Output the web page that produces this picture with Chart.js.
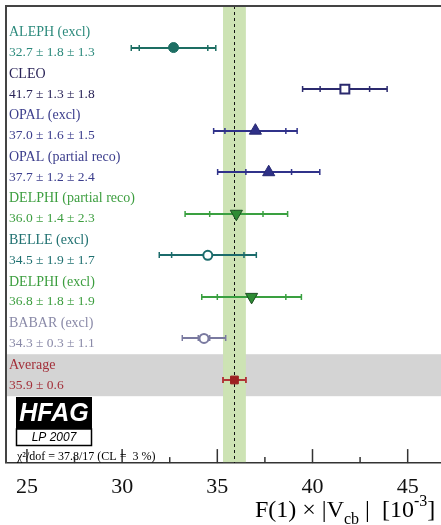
<!DOCTYPE html>
<html>
<head>
<meta charset="utf-8">
<script src="https://cdn.jsdelivr.net/npm/chart.js@4"></script>
<style>
  body { margin: 0; background: #fff; }
  canvas { display: block; }
</style>
</head>
<body>
<canvas id="myChart" width="441" height="525"></canvas>
<script>
// measurements of F(1)|Vcb| [10^-3], top to bottom
var experiments = ['ALEPH (excl)', 'CLEO', 'OPAL (excl)', 'OPAL (partial reco)', 'DELPHI (partial reco)',
                   'BELLE (excl)', 'DELPHI (excl)', 'BABAR (excl)', 'Average'];
var values  = [32.7, 41.7, 37.0, 37.7, 36.0, 34.5, 36.8, 34.3, 35.9];
var statErr = [1.8, 1.3, 1.6, 1.2, 1.4, 1.9, 1.8, 0.3, 0.6];
var systErr = [1.3, 1.8, 1.5, 2.4, 2.3, 1.7, 1.9, 1.1, null];
var xTicks  = [25, 30, 35, 40, 45];
var chi2Label = 'χ²/dof = 37.8/17 (CL =  3 %)';

// styles per row
var textColors = ['#2c8a7c', '#2a2458', '#3b3d8c', '#3b3d8c', '#3c9e3f', '#1f7070', '#3c9e3f', '#8a8aa8', '#a3303a'];
var lineColors = ['#1d6e63', '#2b2a6e', '#30328a', '#30328a', '#3aa040', '#1b6b6b', '#3aa040', '#7a7aa0', '#b03535'];
var fillColors = ['#1d6e63', '#ffffff', '#2e3087', '#2e3087', '#2e8c34', '#ffffff', '#2e8c34', '#ffffff', '#9e2222'];
var edgeColors = ['#1d6e63', '#2b2a6e', '#262870', '#262870', '#1c4f22', '#1b6b6b', '#1c4f22', '#7a7aa0', '#9e2222'];
var shapes     = ['circle', 'rect', 'triangle', 'triangle', 'triangle', 'circle', 'triangle', 'circle', 'rect'];
var rotations  = [0, 0, 0, 0, 180, 0, 180, 0, 0];
var radii      = [5, 6.3, 7, 7, 7, 4.5, 7, 4.5, 5.5];
var borders    = [1, 2, 1, 1, 1, 2, 1, 2, 1];

var serif = '"Liberation Serif", "Times New Roman", serif';
var sans = '"Liberation Sans", Arial, sans-serif';

function totalErr(i) {
  if (systErr[i] == null) return statErr[i];
  return Math.sqrt(statErr[i] * statErr[i] + systErr[i] * systErr[i]);
}

function valueLabel(i) {
  var s = values[i].toFixed(1) + ' ± ' + statErr[i].toFixed(1);
  if (systErr[i] != null) s += ' ± ' + systErr[i].toFixed(1);
  return s;
}

var hfagPlugin = {
  id: 'hfag',
  beforeDatasetsDraw: function (chart) {
    var ctx = chart.ctx, area = chart.chartArea;
    var x = chart.scales.x, y = chart.scales.y;
    var last = values.length - 1;
    var avg = values[last], avgErr = statErr[last];
    ctx.save();

    // grey band behind the average row
    var top = y.getPixelForValue(last - 0.62), bot = y.getPixelForValue(last + 0.39);
    ctx.fillStyle = '#d4d4d4';
    ctx.fillRect(area.left, top, area.right - area.left, bot - top);

    // green band of the average
    var x1 = x.getPixelForValue(avg - avgErr), x2 = x.getPixelForValue(avg + avgErr);
    ctx.fillStyle = '#cde3b4';
    ctx.fillRect(x1, area.top, x2 - x1, area.bottom - area.top - 1);

    // dashed central line
    var xa = Math.round(x.getPixelForValue(avg)) + 0.5;
    ctx.strokeStyle = '#111';
    ctx.lineWidth = 1;
    ctx.setLineDash([3, 3]);
    ctx.beginPath();
    ctx.moveTo(xa, area.top);
    ctx.lineTo(xa, area.bottom);
    ctx.stroke();
    ctx.setLineDash([]);

    // error bars, inner tick = stat, outer = total
    values.forEach(function (v, i) {
      var py = Math.round(y.getPixelForValue(i));
      var tot = totalErr(i);
      ctx.strokeStyle = lineColors[i];
      ctx.lineWidth = 2;
      ctx.beginPath();
      ctx.moveTo(x.getPixelForValue(v - tot), py);
      ctx.lineTo(x.getPixelForValue(v + tot), py);
      ctx.stroke();
      ctx.lineWidth = 1.5;
      [v - statErr[i], v + statErr[i], v - tot, v + tot].forEach(function (e) {
        var px = x.getPixelForValue(e);
        ctx.beginPath();
        ctx.moveTo(px, py - 3);
        ctx.lineTo(px, py + 3);
        ctx.stroke();
      });
    });
    ctx.restore();
  },
  afterDraw: function (chart) {
    var ctx = chart.ctx, area = chart.chartArea;
    var x = chart.scales.x, y = chart.scales.y;
    ctx.save();

    // frame: top and left
    ctx.strokeStyle = '#444';
    ctx.lineWidth = 2;
    ctx.beginPath();
    ctx.moveTo(area.left, area.bottom);
    ctx.lineTo(area.left, area.top);
    ctx.lineTo(chart.width, area.top);
    ctx.stroke();

    // tick marks pointing up into the plot
    ctx.strokeStyle = '#333';
    ctx.lineWidth = 1.5;
    xTicks.forEach(function (t) {
      var px = x.getPixelForValue(t);
      ctx.beginPath();
      ctx.moveTo(px, area.bottom);
      ctx.lineTo(px, area.bottom - 14);
      ctx.stroke();
      var pm = x.getPixelForValue(t + 2.5);
      if (pm < area.right) {
        ctx.beginPath();
        ctx.moveTo(pm, area.bottom);
        ctx.lineTo(pm, area.bottom - 6);
        ctx.stroke();
      }
    });

    // row labels
    ctx.textBaseline = 'middle';
    ctx.textAlign = 'left';
    experiments.forEach(function (name, i) {
      var py = y.getPixelForValue(i);
      ctx.fillStyle = textColors[i];
      ctx.font = '14px ' + serif;
      ctx.fillText(name, area.left + 3, py - 15);
      ctx.font = '13.5px ' + serif;
      ctx.fillText(valueLabel(i), area.left + 3, py + 5);
    });

    // HFAG logo
    ctx.fillStyle = '#000';
    ctx.fillRect(16, 397, 76, 32);
    ctx.fillStyle = '#fff';
    ctx.font = 'italic bold 25px ' + sans;
    ctx.textAlign = 'center';
    ctx.fillText('HFAG', 54, 414);
    ctx.fillStyle = '#fff';
    ctx.fillRect(17, 429, 74, 16);
    ctx.strokeStyle = '#000';
    ctx.lineWidth = 1.5;
    ctx.strokeRect(16.5, 429, 75, 16.5);
    ctx.fillStyle = '#000';
    ctx.font = 'italic 12px ' + sans;
    ctx.fillText('LP 2007', 54, 438);

    // chi2 line
    ctx.textAlign = 'left';
    ctx.font = '12px ' + serif;
    ctx.fillText(chi2Label, 17, 457);

    // axis title with sub/superscripts
    var parts = [['F(1) × |V', 24, 0], ['cb', 16, 7], [' |', 24, 0], ['  [10', 24, 0], ['-3', 16, -11], [']', 24, 0]];
    var tx = 255;
    ctx.textBaseline = 'alphabetic';
    parts.forEach(function (p) {
      ctx.font = p[1] + 'px ' + serif;
      ctx.fillText(p[0], tx, 517 + p[2]);
      tx += ctx.measureText(p[0]).width;
    });
    ctx.restore();
  }
};

var ctx = document.getElementById('myChart').getContext('2d');
var myChart = new Chart(ctx, {
  type: 'scatter',
  data: {
    datasets: [{
      data: values.map(function (v, i) { return { x: v, y: i }; }),
      pointStyle: shapes,
      rotation: rotations,
      pointRadius: radii,
      pointBackgroundColor: fillColors,
      pointBorderColor: edgeColors,
      pointBorderWidth: borders
    }]
  },
  options: {
    responsive: false,
    animation: false,
    layout: { autoPadding: false, padding: { left: 6, top: 6, right: 0, bottom: 13.5 } },
    plugins: { legend: { display: false }, tooltip: { enabled: false } },
    scales: {
      x: {
        type: 'linear',
        min: 23.9,
        max: 46.75,
        afterBuildTicks: function (scale) {
          scale.ticks = xTicks.map(function (t) { return { value: t }; });
        },
        grid: { drawOnChartArea: false, drawTicks: false },
        border: { display: true, color: '#333', width: 1.5 },
        ticks: { padding: 11, color: '#111', font: { family: serif, size: 22 } }
      },
      y: {
        type: 'linear',
        display: false,
        reverse: true,
        min: -1,
        max: 10
      }
    }
  },
  plugins: [hfagPlugin]
});
</script>
</body>
</html>
